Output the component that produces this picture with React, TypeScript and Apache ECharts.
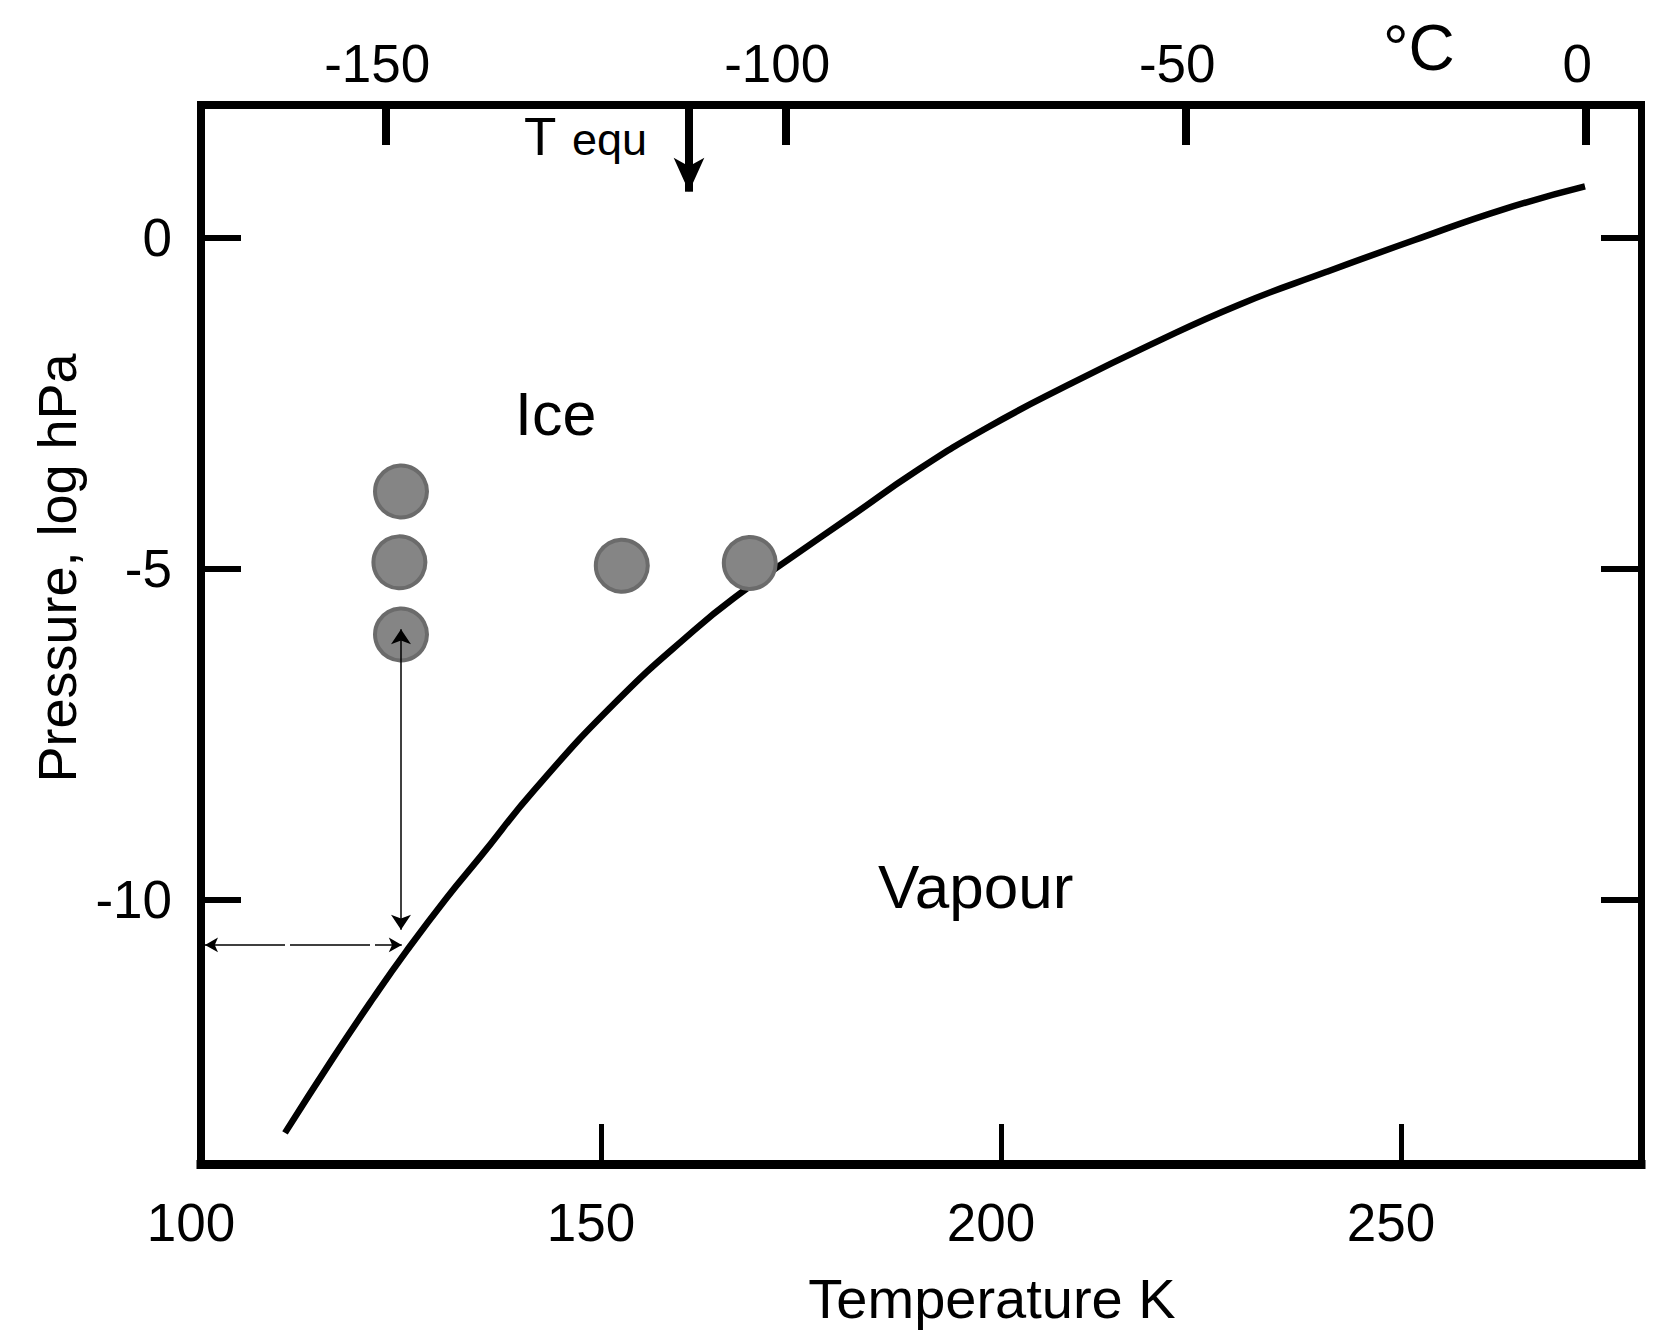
import React, { useEffect, useRef } from 'react';
import * as echarts from 'echarts';

const FONT = '"Liberation Sans", Arial, Helvetica, sans-serif';

// Ice / vapour equilibrium curve: temperature (K) and log10 pressure (hPa)
const curveTemperatureK = [110.5, 116.5, 121.5, 125.7, 130.7, 134.9, 141.6, 151.6, 161.7, 167.4, 174.0, 181.3, 189.4, 198.2, 208.4, 218.7, 229.7, 240.7, 251.7, 262.7, 273.0];
const curveLogPressure = [-13.53, -12.40, -11.50, -10.78, -9.98, -9.36, -8.36, -7.05, -5.93, -5.38, -4.82, -4.21, -3.53, -2.88, -2.23, -1.62, -1.02, -0.52, -0.04, 0.42, 0.77];

// Grey measurement points
const pointTemperatureK = [125.0, 124.8, 125.0, 152.6, 168.6];
const pointLogPressure = [-3.84, -4.91, -6.0, -4.96, -4.92];

// Axis ranges and ticks
const kelvinRange = [100, 280];
const pressureRange = [-14, 2];
const kelvinOffset = 273.15;
const kelvinLabels = [100, 150, 200, 250];
const kelvinTicks = [150, 200, 250];
const celsiusTicks = [-150, -100, -50, 0];
const pressureTicks = [-10, -5, 0];

// Annotation arrows (data coordinates)
const tEquK = 161.0;
const tEquArrow = [2.0, 0.69];
const verticalArrowK = 125.0;
const verticalArrowP = [-5.92, -10.46];
const horizontalArrowP = -10.69;
const horizontalArrowK = [100.5, 125.1];

export default function App() {
  const ref = useRef<HTMLDivElement>(null);

  useEffect(() => {
    if (!ref.current) return;
    const chart = echarts.init(ref.current, undefined, { renderer: 'svg' });

    const black = '#000';
    const labelStyle = { color: black, fontFamily: FONT, fontSize: 53 };

    const option: any = {
      animation: false,
      backgroundColor: '#fff',
      grid: { left: 201, right: 21, top: 105, bottom: 168, outerBoundsMode: 'none', containLabel: false },
      xAxis: [
        {
          type: 'value',
          position: 'bottom',
          min: kelvinRange[0],
          max: kelvinRange[1],
          splitLine: { show: false },
          axisLine: { show: true, onZero: false, lineStyle: { color: black, width: 9, cap: 'square' } },
          axisTick: { show: true, inside: true, length: 40, customValues: kelvinTicks, lineStyle: { color: black, width: 5 } },
          axisLabel: { ...labelStyle, customValues: kelvinLabels, margin: 32, padding: [0, 20, 0, 0] },
          name: 'Temperature K',
          nameLocation: 'middle',
          nameGap: 106,
          nameTextStyle: { color: black, fontFamily: FONT, fontSize: 56, padding: [0, 0, 0, 142] },
        },
        {
          type: 'value',
          position: 'top',
          min: kelvinRange[0] - kelvinOffset,
          max: kelvinRange[1] - kelvinOffset,
          splitLine: { show: false },
          axisLine: { show: true, onZero: false, lineStyle: { color: black, width: 8, cap: 'square' } },
          axisTick: { show: true, inside: true, length: 40, customValues: celsiusTicks, lineStyle: { color: black, width: 8 } },
          axisLabel: { ...labelStyle, customValues: celsiusTicks, margin: 15, padding: [0, 18, 0, 0] },
        },
      ],
      yAxis: [
        {
          type: 'value',
          position: 'left',
          min: pressureRange[0],
          max: pressureRange[1],
          splitLine: { show: false },
          axisLine: { show: true, onZero: false, lineStyle: { color: black, width: 8, cap: 'square' } },
          axisTick: { show: true, inside: true, length: 40, customValues: pressureTicks, lineStyle: { color: black, width: 6 } },
          axisLabel: { ...labelStyle, customValues: pressureTicks, margin: 29 },
          name: 'Pressure, log hPa',
          nameLocation: 'middle',
          nameRotate: 90,
          nameGap: 117,
          nameTextStyle: { color: black, fontFamily: FONT, fontSize: 54, padding: [0, 0, 0, 133] },
        },
        {
          type: 'value',
          position: 'right',
          min: pressureRange[0],
          max: pressureRange[1],
          splitLine: { show: false },
          axisLine: { show: true, onZero: false, lineStyle: { color: black, width: 7, cap: 'square' } },
          axisTick: { show: true, inside: true, length: 40, customValues: pressureTicks, lineStyle: { color: black, width: 6 } },
          axisLabel: { show: false },
        },
      ],
      series: [
        {
          type: 'line',
          xAxisIndex: 0,
          yAxisIndex: 0,
          data: curveTemperatureK.map((t, i) => [t, curveLogPressure[i]]),
          symbol: 'none',
          showSymbol: false,
          smooth: 0.5,
          silent: true,
          lineStyle: { color: black, width: 6.5, join: 'round' },
          z: 2,
        },
        {
          type: 'scatter',
          xAxisIndex: 0,
          yAxisIndex: 0,
          data: pointTemperatureK.map((t, i) => [t, pointLogPressure[i]]),
          symbol: 'circle',
          symbolSize: 52,
          silent: true,
          itemStyle: { color: '#858585', borderColor: '#6b6b6b', borderWidth: 4, opacity: 1 },
          z: 3,
          markLine: {
            silent: true,
            animation: false,
            label: { show: false },
            emphasis: { disabled: true },
            lineStyle: { color: black, width: 1.5, type: 'solid' },
            data: [
              [
                { coord: [verticalArrowK, verticalArrowP[0]], symbol: 'arrow', symbolSize: [15, 15], itemStyle: { color: black }, lineStyle: { color: black, width: 1.5, type: 'solid' } },
                { coord: [verticalArrowK, verticalArrowP[1]], symbol: 'arrow', symbolSize: [15, 15], itemStyle: { color: black }, lineStyle: { color: black, width: 1.5, type: 'solid' } },
              ],
              [
                { coord: [horizontalArrowK[0], horizontalArrowP], symbol: 'arrow', symbolSize: [11, 13], itemStyle: { color: black }, lineStyle: { color: black, width: 1.5, type: [80, 5] } },
                { coord: [horizontalArrowK[1], horizontalArrowP], symbol: 'arrow', symbolSize: [11, 13], itemStyle: { color: black }, lineStyle: { color: black, width: 1.5, type: [80, 5] } },
              ],
              [
                { coord: [tEquK, tEquArrow[0]], symbol: 'none', itemStyle: { color: black }, lineStyle: { color: black, width: 8, type: 'solid' } },
                { coord: [tEquK, tEquArrow[1]], symbol: 'arrow', symbolSize: [23, 34], itemStyle: { color: black }, lineStyle: { color: black, width: 8, type: 'solid' } },
              ],
            ],
          },
        },
      ],
      graphic: [
        { type: 'text', x: 515, y: 414.4, silent: true, style: { text: 'Ice', fill: black, fontFamily: FONT, fontSize: 61, align: 'left', verticalAlign: 'middle' } },
        { type: 'text', x: 878, y: 886.5, silent: true, style: { text: 'Vapour', fill: black, fontFamily: FONT, fontSize: 62, align: 'left', verticalAlign: 'middle' } },
        { type: 'text', x: 524, y: 136.6, silent: true, style: { text: 'T', fill: black, fontFamily: FONT, fontSize: 53, align: 'left', verticalAlign: 'middle' } },
        { type: 'text', x: 572, y: 139.4, silent: true, style: { text: 'equ', fill: black, fontFamily: FONT, fontSize: 45, align: 'left', verticalAlign: 'middle' } },
        { type: 'text', x: 1383, y: 47.8, silent: true, style: { text: '°C', fill: black, fontFamily: FONT, fontSize: 64, align: 'left', verticalAlign: 'middle' } },
      ],
    };

    chart.setOption(option);
    return () => chart.dispose();
  }, []);

  return (
    <div
      ref={ref}
      style={{ position: 'absolute', left: 0, top: 0, width: 1662, height: 1332, background: '#fff' }}
    />
  );
}
